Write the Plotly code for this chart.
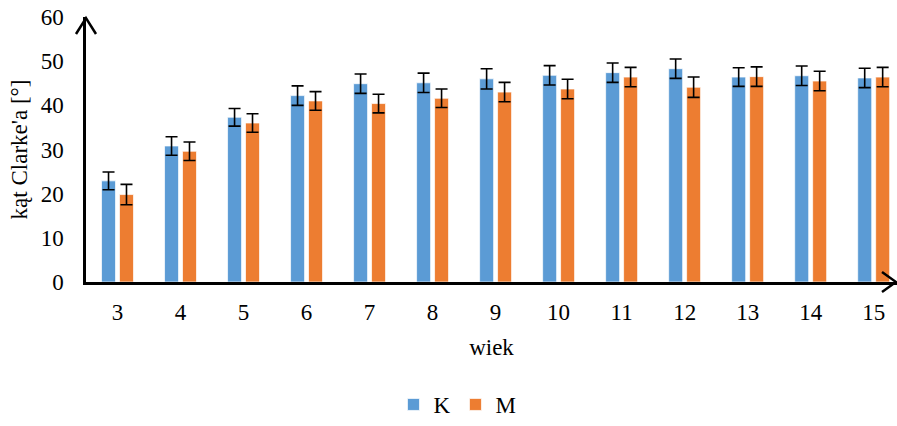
import plotly.graph_objects as go

ages = ["3", "4", "5", "6", "7", "8", "9", "10", "11", "12", "13", "14", "15"]
k_values = [22.9, 30.8, 37.3, 42.2, 44.9, 45.1, 46.0, 46.8, 47.4, 48.3, 46.4, 46.7, 46.2]
k_errors = [2.0, 2.1, 2.0, 2.2, 2.2, 2.2, 2.3, 2.2, 2.2, 2.2, 2.1, 2.2, 2.2]
m_values = [19.8, 29.6, 36.0, 41.0, 40.4, 41.6, 43.0, 43.7, 46.4, 44.1, 46.5, 45.5, 46.4]
m_errors = [2.3, 2.1, 2.1, 2.1, 2.1, 2.1, 2.2, 2.2, 2.2, 2.3, 2.2, 2.2, 2.2]
y_ticks = [0, 10, 20, 30, 40, 50, 60]

FONT = "Times New Roman, Liberation Serif, serif"
FS = 23
BLUE = "#5B9BD5"
ORANGE = "#ED7D31"

err_style = dict(type="data", color="black", thickness=1.6, width=6)

fig = go.Figure()
fig.add_trace(go.Bar(
    name="K", x=ages, y=k_values,
    error_y=dict(array=k_errors, **err_style),
    marker=dict(color=BLUE, line=dict(color="rgba(255,255,255,0.7)", width=1)),
))
fig.add_trace(go.Bar(
    name="M", x=ages, y=m_values,
    error_y=dict(array=m_errors, **err_style),
    marker=dict(color=ORANGE, line=dict(color="rgba(255,255,255,0.7)", width=1)),
))

fig.update_layout(
    width=897, height=426,
    margin=dict(l=86, r=0, t=17, b=144, autoexpand=False),
    paper_bgcolor="white", plot_bgcolor="white",
    font=dict(family=FONT, size=FS, color="black"),
    barmode="group", bargap=0.43, bargroupgap=0.22,
    showlegend=True,
    legend=dict(orientation="h", xref="container", yref="container",
                x=0.51, xanchor="center", y=0.0, yanchor="bottom",
                font=dict(family=FONT, size=FS), itemwidth=30, tracegroupgap=0,
                bgcolor="rgba(0,0,0,0)"),
    xaxis=dict(
        type="category", range=[-0.5, 12.37], automargin=False,
        showline=True, linecolor="black", linewidth=2.5,
        ticks="outside", ticklen=8, tickcolor="rgba(0,0,0,0)",
        showgrid=False, zeroline=False,
        title=dict(text="wiek", standoff=15, font=dict(family=FONT, size=FS)),
        tickfont=dict(family=FONT, size=FS),
    ),
    yaxis=dict(
        range=[0, 60], tickvals=y_ticks, automargin=False,
        showline=True, linecolor="black", linewidth=2.5,
        ticks="outside", ticklen=15, tickcolor="rgba(0,0,0,0)",
        showgrid=False, zeroline=False,
        title=dict(text="kąt Clarke'a [°]", standoff=7, font=dict(family=FONT, size=FS)),
        tickfont=dict(family=FONT, size=FS),
    ),
)

# open arrowheads at the ends of the axes
fig.add_shape(type="path", xref="paper", yref="paper",
              xsizemode="pixel", ysizemode="pixel", xanchor=0, yanchor=1,
              path="M -10,-17 L 0,-1 L 10,-17",
              line=dict(color="black", width=2.5))
fig.add_shape(type="path", xref="paper", yref="paper",
              xsizemode="pixel", ysizemode="pixel", xanchor=1, yanchor=0,
              path="M -15,10 L -1,0 L -15,-10",
              line=dict(color="black", width=2.5))

fig.write_html("out.html",
               config={"displayModeBar": False},
               post_script="document.body.style.margin='0';document.body.style.padding='0';")
